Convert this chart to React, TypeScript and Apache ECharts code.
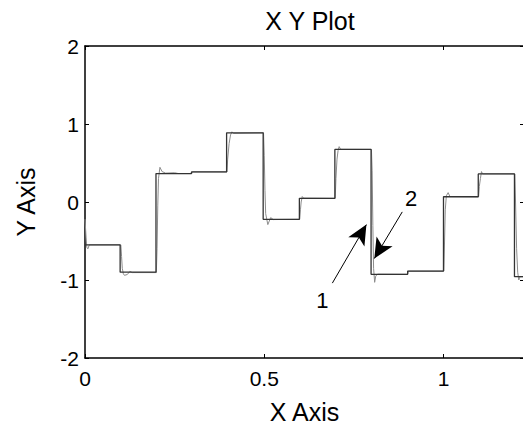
import React, { useEffect, useRef } from "react";
import * as echarts from "echarts";

// Reference (command) step signal: switching times and levels
const stepX = [0, 0.098, 0.198, 0.297, 0.395, 0.497, 0.598, 0.697, 0.798, 0.9, 1.0, 1.097, 1.198, 1.225];
const stepY = [-0.55, -0.9, 0.365, 0.385, 0.887, -0.222, 0.047, 0.674, -0.927, -0.886, 0.067, 0.36, -0.958, -0.958];

// Measured response (lighter trace) with small lag and overshoots
const respX = [
  0, 0.003, 0.005, 0.008, 0.012,
  0.1, 0.102, 0.104, 0.107, 0.11, 0.118, 0.125, 0.132,
  0.199, 0.201, 0.203, 0.205, 0.209, 0.215, 0.225, 0.25, 0.26,
  0.298, 0.3,
  0.396, 0.398, 0.402, 0.406, 0.41, 0.414,
  0.498, 0.5, 0.502, 0.504, 0.51, 0.518, 0.525,
  0.599, 0.601, 0.603, 0.606, 0.61,
  0.698, 0.7, 0.703, 0.706, 0.709, 0.713,
  0.799, 0.801, 0.803, 0.805, 0.808, 0.811, 0.816,
  0.9, 0.902,
  1.001, 1.003, 1.005, 1.008, 1.013, 1.018,
  1.098, 1.1, 1.103, 1.106, 1.109,
  1.199, 1.201, 1.204, 1.207, 1.21, 1.213, 1.225,
];
const respY = [
  -0.22, -0.45, -0.58, -0.6, -0.55,
  -0.55, -0.7, -0.85, -0.92, -0.94, -0.93, -0.89, -0.905,
  -0.905, -0.6, -0.05, 0.3, 0.445, 0.39, 0.37, 0.375, 0.365,
  0.365, 0.385,
  0.385, 0.55, 0.75, 0.86, 0.9, 0.88,
  0.887, 0.6, 0.15, -0.15, -0.29, -0.2, -0.225,
  -0.222, -0.1, 0.0, 0.07, 0.05,
  0.047, 0.3, 0.55, 0.66, 0.71, 0.675,
  0.674, 0.4, -0.3, -0.85, -1.03, -0.95, -0.925,
  -0.927, -0.886,
  -0.886, -0.5, -0.1, 0.08, 0.12, 0.07,
  0.067, 0.2, 0.3, 0.39, 0.36,
  0.36, 0.0, -0.6, -0.9, -1.0, -0.96, -0.958,
];

const xTicks = [0, 0.5, 1];
const yTicks = [-2, -1, 0, 1, 2];

// Annotation arrows: [tailX, tailY, tipX, tipY] and label positions
const arrow1 = [0.69, -1.04, 0.785, -0.29];
const arrow2 = [0.885, -0.127, 0.807, -0.725];
const labelNames = ["1", "2"];
const labelX = [0.662, 0.91];
const labelY = [-1.26, 0.04];

const FONT = "Liberation Sans, Arial, Helvetica, sans-serif";

export default function App() {
  const ref = useRef<HTMLDivElement>(null);
  useEffect(() => {
    if (!ref.current) return;
    document.documentElement.style.overflow = "hidden";
    document.body.style.overflow = "hidden";
    const chart = echarts.init(ref.current, undefined, { renderer: "svg" });
    const stepData = stepX.map((x, i) => [x, stepY[i]]);
    const respData = respX.map((x, i) => [x, respY[i]]);
    const fmt = (v: number) => (xTicks.includes(v) ? String(v) : "");
    const tickStyle = { show: true, inside: true, length: 4, lineStyle: { color: "#000", width: 1 } };
    const axisLine = { show: true, onZero: false, lineStyle: { color: "#000", width: 1.5 } };
    chart.setOption({
      animation: false,
      backgroundColor: "#fff",
      title: {
        text: "X Y Plot",
        left: 305,
        top: 3,
        textAlign: "center",
        textStyle: { fontFamily: FONT, fontSize: 25, fontWeight: "normal", color: "#000" },
      },
      grid: { left: 85, top: 46, right: 2, bottom: 69 },
      xAxis: [
        {
          type: "value",
          min: 0,
          max: 1.2246,
          interval: 0.5,
          name: "X Axis",
          nameLocation: "middle",
          nameGap: 41,
          nameTextStyle: { fontFamily: FONT, fontSize: 25, color: "#000" },
          axisLine,
          axisTick: tickStyle,
          splitLine: { show: false },
          axisLabel: { formatter: fmt, fontFamily: FONT, fontSize: 21, color: "#000", margin: 10 },
        },
        {
          type: "value",
          position: "top",
          min: 0,
          max: 1.2246,
          interval: 0.5,
          axisLine,
          axisTick: tickStyle,
          splitLine: { show: false },
          axisLabel: { show: false },
        },
      ],
      yAxis: [
        {
          type: "value",
          min: -2,
          max: 2,
          interval: 1,
          name: "Y Axis",
          nameLocation: "middle",
          nameGap: 47,
          nameTextStyle: { fontFamily: FONT, fontSize: 25, color: "#000" },
          axisLine,
          axisTick: tickStyle,
          splitLine: { show: false },
          axisLabel: {
            formatter: (v: number) => (yTicks.includes(v) ? String(v) : ""),
            fontFamily: FONT,
            fontSize: 21,
            color: "#000",
            margin: 6,
          },
        },
        {
          type: "value",
          position: "right",
          min: -2,
          max: 2,
          interval: 1,
          axisLine,
          axisTick: tickStyle,
          splitLine: { show: false },
          axisLabel: { show: false },
        },
      ],
      series: [
        {
          name: "response",
          type: "line",
          data: respData,
          showSymbol: false,
          symbol: "none",
          lineStyle: { color: "#8c8c8c", width: 1 },
          z: 2,
        },
        {
          name: "command",
          type: "line",
          step: "end",
          data: stepData,
          showSymbol: false,
          symbol: "none",
          lineStyle: { color: "#333", width: 1.3 },
          z: 3,
          markLine: {
            silent: true,
            animation: false,
            symbol: ["none", "arrow"],
            symbolSize: [14, 20],
            label: { show: false },
            lineStyle: { color: "#000", width: 1, type: "solid" },
            emphasis: { disabled: true },
            data: [
              [{ coord: [arrow1[0], arrow1[1]] }, { coord: [arrow1[2], arrow1[3]] }],
              [{ coord: [arrow2[0], arrow2[1]] }, { coord: [arrow2[2], arrow2[3]] }],
            ],
          },
          markPoint: {
            silent: true,
            animation: false,
            symbol: "rect",
            symbolSize: 1,
            itemStyle: { color: "rgba(0,0,0,0)" },
            label: {
              show: true,
              position: "inside",
              formatter: (p: any) => p.name,
              fontFamily: FONT,
              fontSize: 22,
              color: "#000",
            },
            data: labelNames.map((n, i) => ({ name: n, coord: [labelX[i], labelY[i]] })),
          },
        },
      ],
    });
    return () => chart.dispose();
  }, []);
  return (
    <div
      ref={ref}
      style={{ position: "fixed", left: 0, top: 0, width: 527, height: 429, background: "#fff" }}
    />
  );
}
